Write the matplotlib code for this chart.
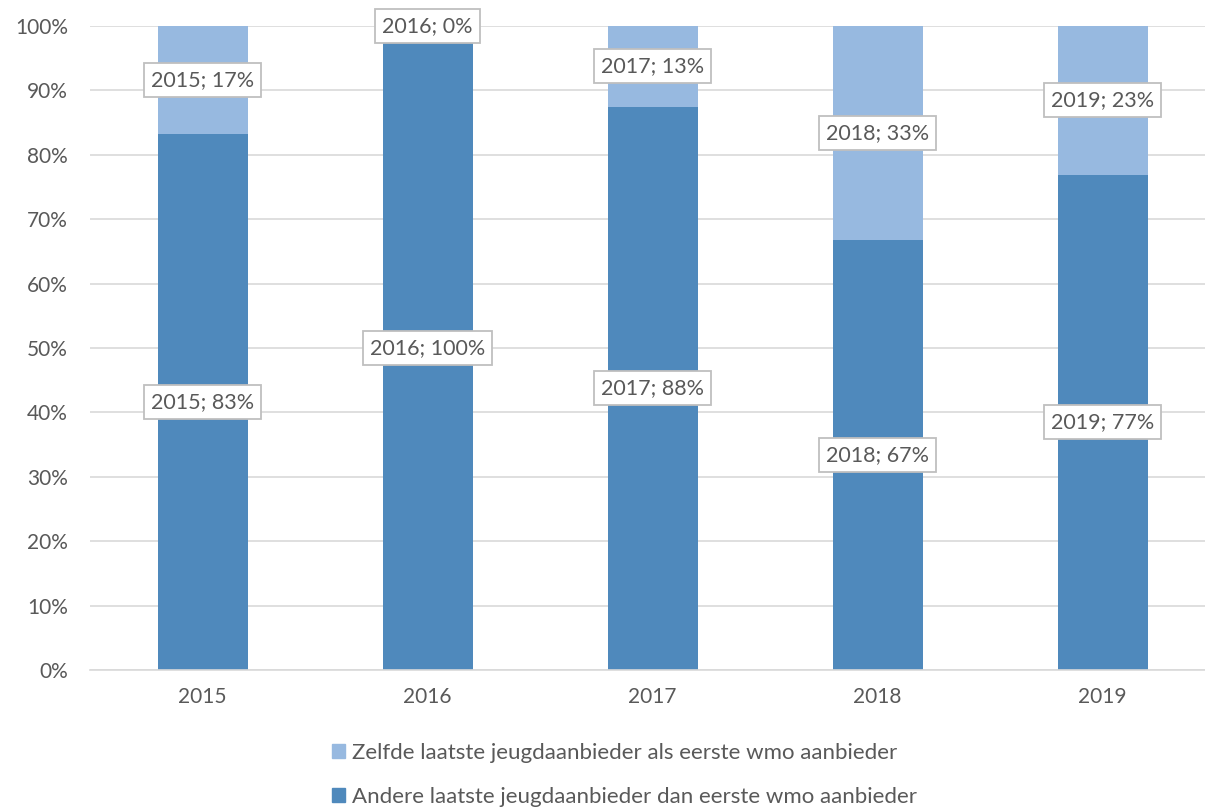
import math
import matplotlib.pyplot as plt
from matplotlib.patches import Patch

years = ['2015', '2016', '2017', '2018', '2019']
andere = [83.3, 100.0, 87.5, 66.7, 76.9]
zelfde = [16.7, 0.0, 12.5, 33.3, 23.1]

dark = '#4F89BC'
light = '#97B9E0'
text_color = '#595959'

plt.rcParams['font.family'] = ['Lato', 'DejaVu Sans']


def pct(v):
    return f'{math.floor(v + 0.5)}%'


fig = plt.figure(figsize=(12.05, 8.11), dpi=100)
ax = fig.add_axes([90 / 1205, 141 / 811, 1125 / 1205, 644 / 811])

x = range(len(years))
ax.bar(x, andere, 0.4, color=dark, zorder=2)
ax.bar(x, zelfde, 0.4, bottom=andere, color=light, zorder=2)

box = dict(boxstyle='square,pad=0.33', facecolor='white', edgecolor='#BFBFBF', linewidth=1.3)
for i, y in enumerate(years):
    ax.text(i, andere[i] / 2, f'{y}; {pct(andere[i])}', ha='center', va='center',
            fontsize=15.5, color=text_color, bbox=box, zorder=5)
    ax.text(i, andere[i] + zelfde[i] / 2, f'{y}; {pct(zelfde[i])}', ha='center', va='center',
            fontsize=15.5, color=text_color, bbox=box, zorder=5)

ax.set_xlim(-0.5, len(years) - 0.5)
ax.set_ylim(0, 100)
ax.set_yticks(range(0, 101, 10))
ax.set_yticklabels([f'{v}%' for v in range(0, 101, 10)])
ax.set_xticks(list(x))
ax.set_xticklabels(years)
ax.tick_params(axis='both', length=0, labelsize=15, labelcolor=text_color)
ax.tick_params(axis='x', pad=12)
ax.tick_params(axis='y', pad=16)
ax.yaxis.grid(True, color='#D9D9D9', linewidth=1.2, zorder=0)
ax.set_axisbelow(True)
for side in ['top', 'right', 'left']:
    ax.spines[side].set_visible(False)
ax.spines['bottom'].set_color('#D9D9D9')
ax.spines['bottom'].set_linewidth(1.2)

handles = [Patch(color=light, label='Zelfde laatste jeugdaanbieder als eerste wmo aanbieder'),
           Patch(color=dark, label='Andere laatste jeugdaanbieder dan eerste wmo aanbieder')]
fig.legend(handles=handles, loc='center', bbox_to_anchor=(624 / 1205, 1 - 775 / 811),
           ncol=1, frameon=False, fontsize=16, labelcolor=text_color,
           handlelength=0.6, handleheight=0.6, handletextpad=0.3, labelspacing=1.1)

fig.savefig('out.png', dpi=100)
